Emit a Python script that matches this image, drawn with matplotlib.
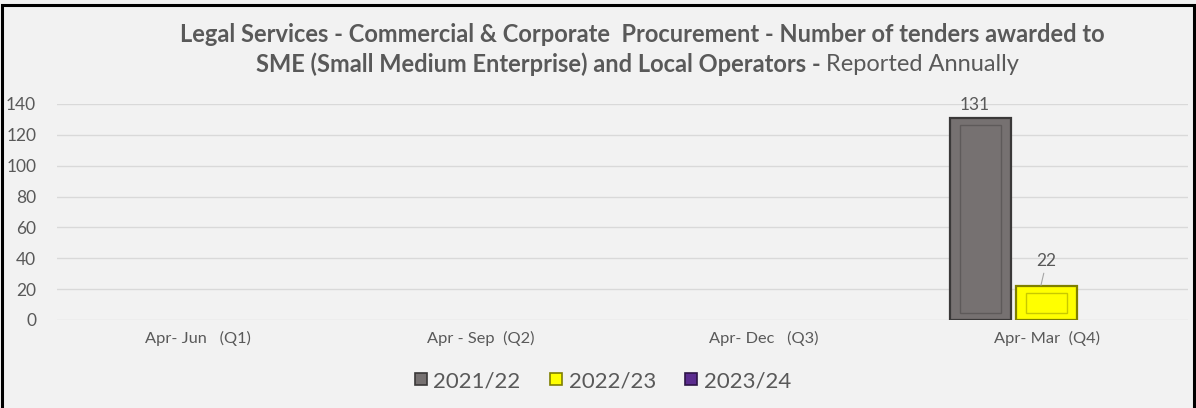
import matplotlib.pyplot as plt
import matplotlib.patches as mpatches
from matplotlib.lines import Line2D
import numpy as np

plt.rcParams['font.family'] = ['Lato', 'DejaVu Sans']

categories = ['Apr- Jun   (Q1)', 'Apr - Sep  (Q2)', 'Apr- Dec   (Q3)', 'Apr- Mar  (Q4)']
series = ['2021/22', '2022/23', '2023/24']
values = {
    '2021/22': [np.nan, np.nan, np.nan, 131],
    '2022/23': [np.nan, np.nan, np.nan, 22],
    '2023/24': [np.nan, np.nan, np.nan, np.nan],
}
face = {'2021/22': '#767171', '2022/23': '#FFFF00', '2023/24': '#5B2C8F'}
edge = {'2021/22': '#3A3838', '2022/23': '#7F7F00', '2023/24': '#2E1548'}
inner = {'2021/22': '#5E5A5A', '2022/23': '#C8C800', '2023/24': '#44206B'}

txt = '#595959'
bg = '#F2F2F2'

fig = plt.figure(figsize=(11.96, 4.08), dpi=100, facecolor=bg)
ax = fig.add_axes([0.0477, 0.2157, 0.9456, 0.5294])
ax.set_facecolor(bg)

x = np.arange(len(categories))
w = 0.216
gap = 0.018
offsets = [-(w + gap), 0, (w + gap)]
for s, off in zip(series, offsets):
    v = np.array(values[s], dtype=float)
    ax.bar(x + off, v, width=w, color=face[s], edgecolor=edge[s], linewidth=1.6, zorder=3)
    # inner bevel outline
    inset = 4.5
    vi = np.where(v > 2 * inset, v - 2 * inset, np.nan)
    ax.bar(x + off, vi, bottom=inset, width=w * 0.68, color='none',
           edgecolor=inner[s], linewidth=1.0, zorder=4)

# data labels
v1 = values['2021/22'][3]
ax.text(x[3] + offsets[0] - 0.02, v1 + 3, f'{v1}', ha='center', va='bottom',
        fontsize=12.5, color=txt)
v2 = values['2022/23'][3]
ax.annotate(f'{v2}', xy=(x[3] + offsets[1] - 0.02, v2 + 0.5),
            xytext=(x[3] + offsets[1] + 0.0, v2 + 11), ha='center', va='bottom',
            fontsize=12.5, color=txt,
            arrowprops=dict(arrowstyle='-', color='#A6A6A6', lw=0.8, shrinkA=1, shrinkB=0))

ax.set_xlim(-0.5, 3.5)
ax.set_ylim(0, 140)
ax.set_yticks(np.arange(0, 141, 20))
ax.set_xticks(x)
ax.set_xticklabels(categories)
ax.tick_params(axis='both', length=0, labelcolor=txt)
ax.tick_params(axis='y', pad=15, labelsize=12.5)
ax.tick_params(axis='x', pad=8, labelsize=11.8)
ax.yaxis.grid(True, color='#D9D9D9', linewidth=1)
ax.set_axisbelow(True)
for sp in ax.spines.values():
    sp.set_visible(False)

# title (two lines, mixed weight on second)
tsize = 17
fig.text(0.537, 0.916, 'Legal Services - Commercial & Corporate  Procurement - Number of tenders awarded to',
         ha='center', va='center', fontsize=tsize, fontweight='bold', color=txt)
part1 = 'SME (Small Medium Enterprise) and Local Operators - '
part2 = 'Reported Annually'
r = fig.canvas.get_renderer()
t1 = fig.text(0, 0.843, part1, ha='left', va='center', fontsize=tsize, fontweight='bold', color=txt)
t2 = fig.text(0, 0.843, part2, ha='left', va='center', fontsize=tsize, color=txt)
w1 = t1.get_window_extent(r).width / fig.bbox.width
w2 = t2.get_window_extent(r).width / fig.bbox.width
start = 0.533 - (w1 + w2) / 2
t1.set_x(start)
t2.set_x(start + w1)

handles = [Line2D([], [], marker='s', linestyle='none', markersize=9,
                  markerfacecolor=face[s], markeredgecolor=edge[s], markeredgewidth=1.2)
           for s in series]
fig.legend(handles, series, loc='center', bbox_to_anchor=(0.503, 0.066), ncol=3,
           frameon=False, fontsize=16, labelcolor=txt, handletextpad=0.15,
           columnspacing=1.2, handlelength=0.8)

# outer border
fig.add_artist(mpatches.Rectangle((0.002, -0.01), 0.996, 0.998, transform=fig.transFigure,
                                  fill=False, edgecolor='black', linewidth=2.2))

fig.savefig('out.png', dpi=100, facecolor=bg)
